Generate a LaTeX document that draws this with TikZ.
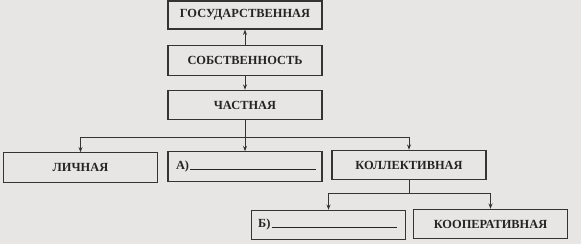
\documentclass[tikz,border=0pt]{standalone}
\usepackage{fontspec}
\setmainfont{Liberation Serif}
\usetikzlibrary{arrows.meta}
\definecolor{bg}{HTML}{E8E5E5}
\definecolor{ink}{HTML}{353333}
\definecolor{txt}{HTML}{252323}
\tikzset{
  box/.style={draw=ink, line width=0.85pt, inner sep=0pt, minimum width=115.5pt,
    minimum height=22pt, text=txt, font=\fontsize{9.3}{11}\selectfont\bfseries},
  arr/.style={draw=ink, line width=0.65pt, -{Stealth[length=4pt,width=3pt]}},
  ln/.style={draw=ink, line width=0.65pt}
}
\begin{document}
\begin{tikzpicture}[x=0.75pt,y=-0.75pt]
\fill[bg] (0,0) rectangle (581,244);
\useasboundingbox (0,0) rectangle (581,244);
\node[box, minimum height=21pt] (gos) at (245,15) {ГОСУДАРСТВЕННАЯ};
\node[box] (sob) at (245,60.5) {СОБСТВЕННОСТЬ};
\node[box] (chas) at (245,105) {ЧАСТНАЯ};
\node[box] (lich) at (80.5,167.5) {ЛИЧНАЯ};
\node[box] (a) at (245,166.5) {\makebox[115.5pt][l]{\hspace{6pt}А)\hspace{1pt}\rule{94pt}{0.5pt}}};
\node[box] (kol) at (409,165) {КОЛЛЕКТИВНАЯ};
\node[box] (b) at (328.5,225) {\makebox[115.5pt][l]{\hspace{5pt}Б)\hspace{1pt}\rule{94pt}{0.5pt}}};
\node[box] (koop) at (490.5,224) {КООПЕРАТИВНАЯ};
\coordinate (j1) at (245,137);
\coordinate (j2) at (409,193);
\draw[arr] (sob.north) -- (gos.south);
\draw[arr] (sob.south) -- (chas.north);
\draw[ln] (chas.south) -- (j1);
\draw[arr] (j1) -| (lich.north);
\draw[arr] (j1) -- (a.north);
\draw[arr] (j1) -| (kol.north);
\draw[ln] (kol.south) -- (j2);
\draw[arr] (j2) -| (b.north);
\draw[arr] (j2) -| (koop.north);
\end{tikzpicture}
\end{document}
